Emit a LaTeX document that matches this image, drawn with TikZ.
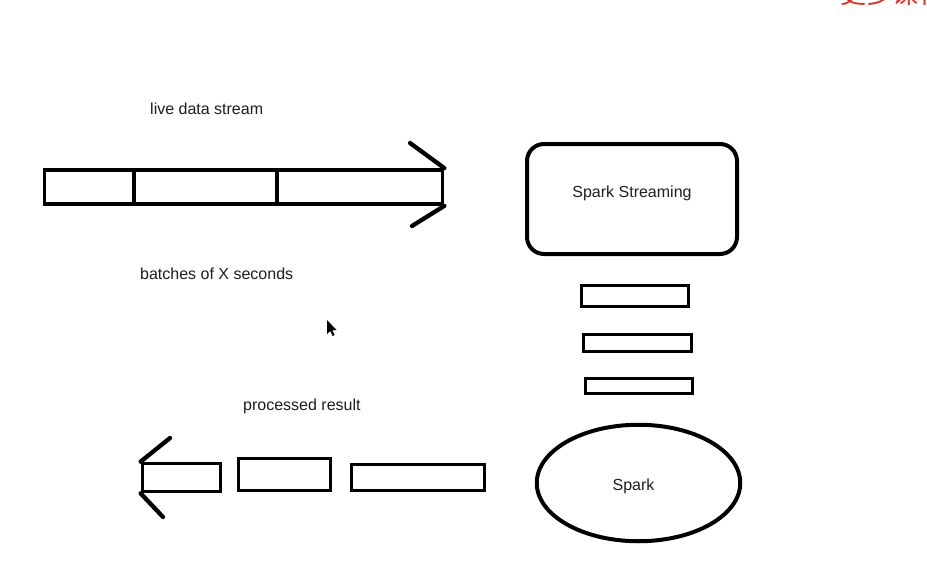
\documentclass[tikz,border=0pt]{standalone}
\usepackage{fontspec}
\setmainfont{Liberation Sans}
\newfontfamily\cjkfont{Noto Sans CJK SC}
\usetikzlibrary{shapes.geometric}
\definecolor{wmred}{RGB}{222,45,35}
\definecolor{txtgray}{RGB}{30,30,30}
\tikzset{
  cell/.style={draw, line width=3.7pt, inner sep=0pt, minimum width=#1},
  blk/.style={draw, line width=3.7pt, inner sep=0pt},
  head/.style={line width=4.3pt, line cap=round},
  lbl/.style={font=\fontsize{16}{19}\selectfont, text=txtgray, inner sep=0pt},
}
\begin{document}
\begin{tikzpicture}[x=1pt, y=-1pt]
\useasboundingbox (0,0) rectangle (927,570);
\clip (0,0) rectangle (927,570);
\fill[white] (0,0) rectangle (927,570);

% watermark (cut off at top edge, as in the reference)
\node[anchor=base west, inner sep=0pt, text=wmred, font=\cjkfont\fontsize{26}{30}\selectfont] (wm) at (840,3) {更多课程};

% labels
\node[lbl, anchor=base west] (live) at (150,114) {live data stream};
\node[lbl, anchor=base west] (batches) at (140,279) {batches of X seconds};
\node[lbl, anchor=base west] (proc) at (243,410) {processed result};

% top stream arrow
\node[cell=89.5pt, minimum height=34pt] (c1) at (89.25,187) {};
\node[cell=143pt, minimum height=34pt] (c2) at (205.5,187) {};
\node[cell=165.5pt, minimum height=34pt] (c3) at (359.75,187) {};
\coordinate (tu) at (410,143);
\coordinate (tl) at (412,226);
\draw[head] (c3.north east) -- (tu);
\draw[head] (c3.south east) -- (tl);

% Spark Streaming
\node[blk, line width=4pt, rounded corners=17pt, minimum width=210pt, minimum height=110pt,
  label={[lbl, yshift=6pt]center:Spark Streaming}] (ss) at (632,199) {};

% batches
\node[blk, minimum width=107pt, minimum height=21pt] (s1) at (635,296) {};
\node[blk, minimum width=108pt, minimum height=17pt] (s2) at (637.5,343) {};
\node[blk, minimum width=107pt, minimum height=15pt] (s3) at (639,386) {};

% Spark
\node[blk, ellipse, line width=4pt, minimum width=203.5pt, minimum height=116.5pt,
  label={[lbl, xshift=-5pt, yshift=-3pt]center:Spark}] (sp) at (638.5,483) {};

% bottom result arrow
\node[blk, minimum width=78pt, minimum height=28pt] (b1) at (181.5,477.5) {};
\node[blk, minimum width=92pt, minimum height=32pt] (b2) at (284.5,474.5) {};
\node[blk, minimum width=133pt, minimum height=26pt] (b3) at (418,477.5) {};
\coordinate (bu) at (170,438);
\coordinate (bl) at (163,517);
\draw[head] (b1.north west) -- (bu);
\draw[head] (b1.south west) -- (bl);

% mouse cursor
\fill[black] (327,320) -- (327,334) -- (330.2,331) -- (332.6,336) -- (334.6,335) -- (332.3,330) -- (336.5,330) -- cycle;
\end{tikzpicture}
\end{document}
